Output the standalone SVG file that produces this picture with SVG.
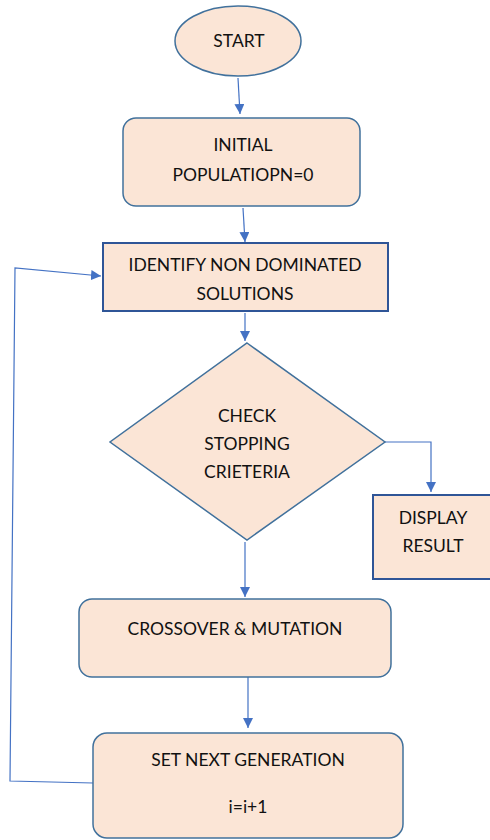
<svg xmlns="http://www.w3.org/2000/svg" width="490" height="840" viewBox="0 0 490 840">
<style>
.n{fill:#FBE5D6;stroke:#41719C;stroke-width:1.5}
.b{fill:#FBE5D6;stroke:#2F5597;stroke-width:2}
.t{font-family:Lato,"Liberation Sans",sans-serif;font-size:17.5px;fill:#111;text-anchor:middle}
.c{fill:none;stroke:#4472C4;stroke-width:1.2}
</style>
<defs>
<marker id="a" viewBox="0 0 10 10" refX="10" refY="5" markerWidth="10" markerHeight="10" markerUnits="userSpaceOnUse" orient="auto">
<path d="M0,0 L10,5 L0,10 z" fill="#4472C4"/>
</marker>
</defs>
<rect width="490" height="840" fill="#fff"/>
<g id="connectors">
<path class="c" d="M238,78 L240,114" marker-end="url(#a)"/>
<path class="c" d="M243,208 L245,242" marker-end="url(#a)"/>
<path class="c" d="M245,313 L245,341" marker-end="url(#a)"/>
<path class="c" d="M385,442 L431,442 L431,492" marker-end="url(#a)"/>
<path class="c" d="M245,542 L245,597" marker-end="url(#a)"/>
<path class="c" d="M248,677 L248,728" marker-end="url(#a)"/>
<path class="c" d="M93,783 L10,781 L15,268 L101,276" marker-end="url(#a)"/>
</g>
<g id="start">
<ellipse class="n" cx="238" cy="41" rx="63" ry="35"/>
<text class="t" x="239" y="47">START</text>
</g>
<g id="initial">
<rect class="n" x="123" y="118" width="237" height="88" rx="13"/>
<text class="t" x="243" y="151">INITIAL</text>
<text class="t" x="243" y="181">POPULATIOPN=0</text>
</g>
<g id="identify">
<rect class="b" x="103" y="243" width="285" height="68"/>
<text class="t" x="245" y="271">IDENTIFY NON DOMINATED</text>
<text class="t" x="245" y="300">SOLUTIONS</text>
</g>
<g id="check">
<polygon class="n" points="247,343 385,442 247,540 110,442"/>
<text class="t" x="247" y="422">CHECK</text>
<text class="t" x="247" y="450">STOPPING</text>
<text class="t" x="247" y="478">CRIETERIA</text>
</g>
<g id="display">
<rect class="b" x="373" y="495" width="120" height="84"/>
<text class="t" x="433" y="524">DISPLAY</text>
<text class="t" x="433" y="552">RESULT</text>
</g>
<g id="crossover">
<rect class="n" x="79" y="599" width="312" height="78" rx="13"/>
<text class="t" x="235" y="635">CROSSOVER &amp; MUTATION</text>
</g>
<g id="setnext">
<rect class="n" x="93" y="733" width="310" height="105" rx="14"/>
<text class="t" x="248" y="766">SET NEXT GENERATION</text>
<text class="t" x="248" y="813">i=i+1</text>
</g>
</svg>
